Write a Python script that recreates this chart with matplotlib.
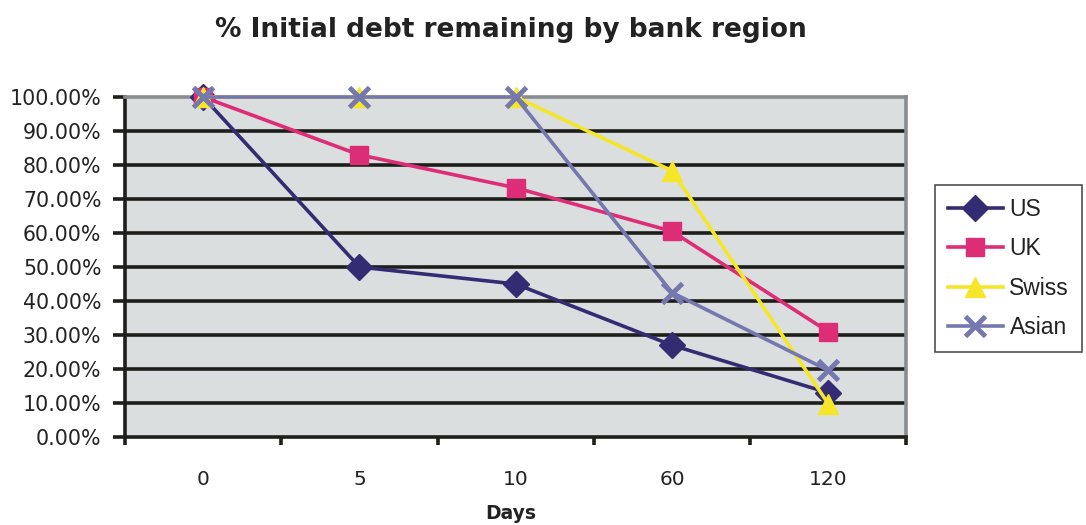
import matplotlib
matplotlib.use("Agg")
import matplotlib.pyplot as plt
from matplotlib.ticker import FixedLocator, PercentFormatter
from matplotlib.font_manager import FontProperties

categories = ["0", "5", "10", "60", "120"]
us = [100.0, 50.0, 45.0, 27.0, 13.0]
uk = [100.0, 83.0, 73.3, 60.5, 31.0]
swiss = [100.0, 100.0, 100.0, 78.3, 9.8]
asian = [100.0, 100.0, 100.0, 42.5, 19.6]
series = [("US", us, "#342C73", "D"), ("UK", uk, "#DE2D77", "s"),
          ("Swiss", swiss, "#F5E62A", "^"), ("Asian", asian, "#7577AF", "x")]

txt = "#222222"
fig = plt.figure(figsize=(10.86, 5.25), dpi=100)
ax = fig.add_axes([0.1151, 0.1676, 0.7195, 0.6476])
ax.set_facecolor("#DADEDF")

x = list(range(len(categories)))
for name, vals, col, mk in series:
    if mk == "x":
        ax.plot(x, vals, color=col, lw=2.6, marker="x", ms=14, mew=3.5,
                label=name, zorder=3, clip_on=False)
    else:
        ms = {"D": 13, "s": 13, "^": 15}[mk]
        ax.plot(x, vals, color=col, lw=2.6, marker=mk, ms=ms, mec=col,
                label=name, zorder=3, clip_on=False)

ax.set_xlim(-0.5, len(categories) - 0.5)
ax.set_ylim(0, 100)
ax.yaxis.set_major_locator(FixedLocator([i * 10 for i in range(11)]))
ax.yaxis.set_major_formatter(PercentFormatter(decimals=2))
for yv in range(10, 100, 10):
    ax.axhline(yv, color="#1E1E1A", lw=2.6, zorder=1)

ax.set_xticks([i - 0.5 for i in range(len(categories) + 1)])
ax.set_xticklabels([])
ax.set_xticks(x, minor=True)
ax.set_xticklabels(categories, minor=True)
ax.tick_params(axis="x", which="minor", length=0, pad=24, labelsize=14.5, labelcolor=txt)
ax.tick_params(axis="x", which="major", length=6, width=2.6, color="#1E1E1A", direction="out")
ax.tick_params(axis="y", length=9, width=2.6, color="#1E1E1A", labelsize=14.8, labelcolor=txt, pad=8)

for s in ["left", "bottom"]:
    ax.spines[s].set_color("#1E1E1A")
    ax.spines[s].set_linewidth(2.6)
for s in ["top", "right"]:
    ax.spines[s].set_color("#8A8D8F")
    ax.spines[s].set_linewidth(2.6)

fig.text(0.4705, 0.942, "% Initial debt remaining by bank region", ha="center", va="center",
         fontsize=19, fontweight="bold", color=txt)
fig.text(0.4705, 0.022, "Days", ha="center", va="center", fontsize=13.5, fontweight="bold", color=txt)

lp = FontProperties(family="Liberation Sans", stretch="normal", size=16.5)
leg = fig.legend(loc="upper left", bbox_to_anchor=(935 / 1086, 1 - 185 / 525),
                 frameon=True, fancybox=False, edgecolor="#222222",
                 prop=lp, handlelength=2.4,
                 labelspacing=0.72, borderpad=0.55, handletextpad=0.3, borderaxespad=0)
leg.get_frame().set_linewidth(1.2)
for t in leg.get_texts():
    t.set_color(txt)

fig.savefig("out.png", dpi=100)
